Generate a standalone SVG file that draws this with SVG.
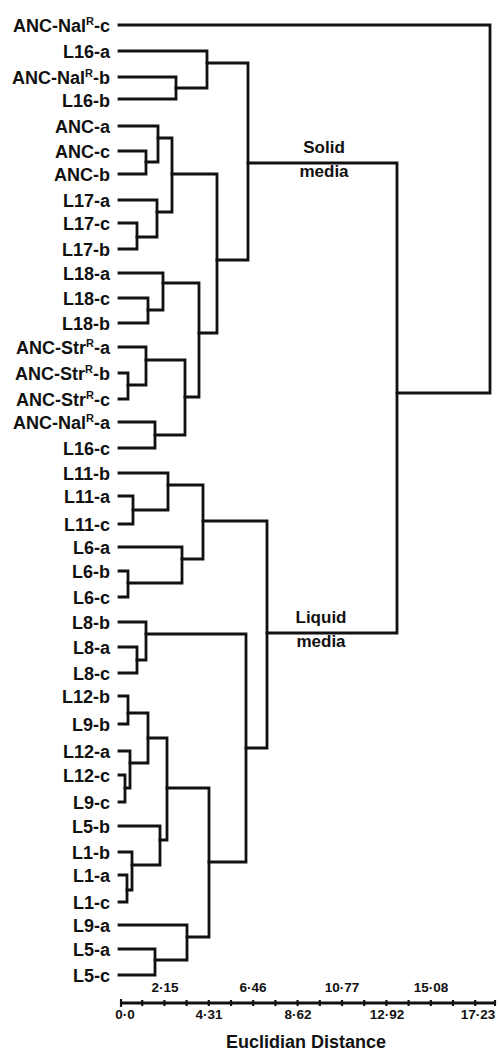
<svg xmlns="http://www.w3.org/2000/svg" width="498" height="1051" viewBox="0 0 498 1051">
<style>
.lbl{font-family:"Liberation Sans",Arial,sans-serif;font-weight:bold;font-size:18px;fill:#111;text-anchor:end}
.sup{font-size:11px}
.ann{font-family:"Liberation Sans",Arial,sans-serif;font-weight:bold;font-size:17px;fill:#111;text-anchor:middle}
.ax{font-family:"Liberation Sans",Arial,sans-serif;font-weight:bold;font-size:13.5px;fill:#111;text-anchor:middle}
.title{font-family:"Liberation Sans",Arial,sans-serif;font-weight:bold;font-size:18px;fill:#111;text-anchor:middle}
.ln{fill:none;stroke:#111;stroke-width:2.8;stroke-linejoin:miter;stroke-linecap:square}
.tk{stroke:#111;stroke-width:2.2}
</style>
<rect width="498" height="1051" fill="#fff"/>
<g id="leaves">
<g id="leaf-ANC-NalR-c"><text class="lbl" x="110" y="32">ANC-Nal<tspan class="sup" dy="-7">R</tspan><tspan dy="7">-c</tspan></text></g>
<g id="leaf-L16-a"><text class="lbl" x="110" y="58">L16-a</text></g>
<g id="leaf-ANC-NalR-b"><text class="lbl" x="110" y="84">ANC-Nal<tspan class="sup" dy="-7">R</tspan><tspan dy="7">-b</tspan></text></g>
<g id="leaf-L16-b"><text class="lbl" x="110" y="107">L16-b</text></g>
<g id="leaf-ANC-a"><text class="lbl" x="110" y="133">ANC-a</text></g>
<g id="leaf-ANC-c"><text class="lbl" x="110" y="158">ANC-c</text></g>
<g id="leaf-ANC-b"><text class="lbl" x="110" y="181">ANC-b</text></g>
<g id="leaf-L17-a"><text class="lbl" x="110" y="207">L17-a</text></g>
<g id="leaf-L17-c"><text class="lbl" x="110" y="230">L17-c</text></g>
<g id="leaf-L17-b"><text class="lbl" x="110" y="256">L17-b</text></g>
<g id="leaf-L18-a"><text class="lbl" x="110" y="280">L18-a</text></g>
<g id="leaf-L18-c"><text class="lbl" x="110" y="305">L18-c</text></g>
<g id="leaf-L18-b"><text class="lbl" x="110" y="330">L18-b</text></g>
<g id="leaf-ANC-StrR-a"><text class="lbl" x="110" y="354">ANC-Str<tspan class="sup" dy="-7">R</tspan><tspan dy="7">-a</tspan></text></g>
<g id="leaf-ANC-StrR-b"><text class="lbl" x="110" y="380">ANC-Str<tspan class="sup" dy="-7">R</tspan><tspan dy="7">-b</tspan></text></g>
<g id="leaf-ANC-StrR-c"><text class="lbl" x="110" y="406">ANC-Str<tspan class="sup" dy="-7">R</tspan><tspan dy="7">-c</tspan></text></g>
<g id="leaf-ANC-NalR-a"><text class="lbl" x="110" y="429">ANC-Nal<tspan class="sup" dy="-7">R</tspan><tspan dy="7">-a</tspan></text></g>
<g id="leaf-L16-c"><text class="lbl" x="110" y="455">L16-c</text></g>
<g id="leaf-L11-b"><text class="lbl" x="110" y="480">L11-b</text></g>
<g id="leaf-L11-a"><text class="lbl" x="110" y="503">L11-a</text></g>
<g id="leaf-L11-c"><text class="lbl" x="110" y="531">L11-c</text></g>
<g id="leaf-L6-a"><text class="lbl" x="110" y="554">L6-a</text></g>
<g id="leaf-L6-b"><text class="lbl" x="110" y="578">L6-b</text></g>
<g id="leaf-L6-c"><text class="lbl" x="110" y="604">L6-c</text></g>
<g id="leaf-L8-b"><text class="lbl" x="110" y="629">L8-b</text></g>
<g id="leaf-L8-a"><text class="lbl" x="110" y="654">L8-a</text></g>
<g id="leaf-L8-c"><text class="lbl" x="110" y="680">L8-c</text></g>
<g id="leaf-L12-b"><text class="lbl" x="110" y="703">L12-b</text></g>
<g id="leaf-L9-b"><text class="lbl" x="110" y="731">L9-b</text></g>
<g id="leaf-L12-a"><text class="lbl" x="110" y="758">L12-a</text></g>
<g id="leaf-L12-c"><text class="lbl" x="110" y="782">L12-c</text></g>
<g id="leaf-L9-c"><text class="lbl" x="110" y="809">L9-c</text></g>
<g id="leaf-L5-b"><text class="lbl" x="110" y="833">L5-b</text></g>
<g id="leaf-L1-b"><text class="lbl" x="110" y="859">L1-b</text></g>
<g id="leaf-L1-a"><text class="lbl" x="110" y="882">L1-a</text></g>
<g id="leaf-L1-c"><text class="lbl" x="110" y="909">L1-c</text></g>
<g id="leaf-L9-a"><text class="lbl" x="110" y="932">L9-a</text></g>
<g id="leaf-L5-a"><text class="lbl" x="110" y="956">L5-a</text></g>
<g id="leaf-L5-c"><text class="lbl" x="110" y="982">L5-c</text></g>
</g>
<g id="connectors" class="ln">
<path class="ln" d="M119 77H176V99H119"/>
<path class="ln" d="M119 51H207V88H176"/>
<path class="ln" d="M119 151H146V174H119"/>
<path class="ln" d="M119 126H158V162H146"/>
<path class="ln" d="M119 223H137V249H119"/>
<path class="ln" d="M119 200H157V237H137"/>
<path class="ln" d="M158 138H172V212H157"/>
<path class="ln" d="M119 298H148V323H119"/>
<path class="ln" d="M119 273H163V310H148"/>
<path class="ln" d="M119 373H128V399H119"/>
<path class="ln" d="M119 347H146V385H128"/>
<path class="ln" d="M119 422H155V448H119"/>
<path class="ln" d="M146 360H185V435H155"/>
<path class="ln" d="M163 283H199V397H185"/>
<path class="ln" d="M172 174H217V333H199"/>
<path class="ln" d="M207 63H248V260H217"/>
<path class="ln" d="M119 496H133V524H119"/>
<path class="ln" d="M119 473H168V510H133"/>
<path class="ln" d="M119 571H128V597H119"/>
<path class="ln" d="M119 547H182V583H128"/>
<path class="ln" d="M168 485H203V559H182"/>
<path class="ln" d="M119 647H137V673H119"/>
<path class="ln" d="M119 622H146V660H137"/>
<path class="ln" d="M119 696H128V724H119"/>
<path class="ln" d="M119 775H125V802H119"/>
<path class="ln" d="M119 751H130V788H125"/>
<path class="ln" d="M128 713H148V763H130"/>
<path class="ln" d="M119 875H127V902H119"/>
<path class="ln" d="M119 852H132V890H127"/>
<path class="ln" d="M119 826H160V865H132"/>
<path class="ln" d="M148 738H167V840H160"/>
<path class="ln" d="M119 949H155V975H119"/>
<path class="ln" d="M119 925H187V960H155"/>
<path class="ln" d="M167 788H209V937H187"/>
<path class="ln" d="M146 634H246V862H209"/>
<path class="ln" d="M203 521H267V748H246"/>
<path class="ln" d="M248 163H397V633H267"/>
<path class="ln" d="M119 25H490V393H397"/>
</g>
<g id="annotations">
<text class="ann" x="324" y="153">Solid</text>
<text class="ann" x="324" y="177">media</text>
<text class="ann" x="321" y="623">Liquid</text>
<text class="ann" x="321" y="647">media</text>
</g>
<g id="axis">
<line x1="120" y1="1003" x2="496" y2="1003" stroke="#111" stroke-width="3"/>
<g class="tk">
<line x1="121" y1="999" x2="121" y2="1007"/>
<line x1="142.2" y1="1000" x2="142.2" y2="1006"/>
<line x1="164.4" y1="1000" x2="164.4" y2="1006"/>
<line x1="186.6" y1="1000" x2="186.6" y2="1006"/>
<line x1="208.8" y1="1000" x2="208.8" y2="1006"/>
<line x1="231" y1="1000" x2="231" y2="1006"/>
<line x1="253.2" y1="1000" x2="253.2" y2="1006"/>
<line x1="275.4" y1="1000" x2="275.4" y2="1006"/>
<line x1="297.6" y1="1000" x2="297.6" y2="1006"/>
<line x1="319.8" y1="1000" x2="319.8" y2="1006"/>
<line x1="342" y1="1000" x2="342" y2="1006"/>
<line x1="364.2" y1="1000" x2="364.2" y2="1006"/>
<line x1="386.4" y1="1000" x2="386.4" y2="1006"/>
<line x1="408.6" y1="1000" x2="408.6" y2="1006"/>
<line x1="430.8" y1="1000" x2="430.8" y2="1006"/>
<line x1="453" y1="1000" x2="453" y2="1006"/>
<line x1="475.2" y1="1000" x2="475.2" y2="1006"/>
<line x1="495" y1="1000" x2="495" y2="1006"/>
</g>
<text class="ax" x="165" y="992">2·15</text>
<text class="ax" x="253" y="992">6·46</text>
<text class="ax" x="342" y="992">10·77</text>
<text class="ax" x="431" y="992">15·08</text>
<text class="ax" x="125" y="1019">0·0</text>
<text class="ax" x="209" y="1019">4·31</text>
<text class="ax" x="298" y="1019">8·62</text>
<text class="ax" x="387" y="1019">12·92</text>
<text class="ax" x="478" y="1019">17·23</text>
<text class="title" x="306" y="1048">Euclidian Distance</text>
</g>
</svg>
